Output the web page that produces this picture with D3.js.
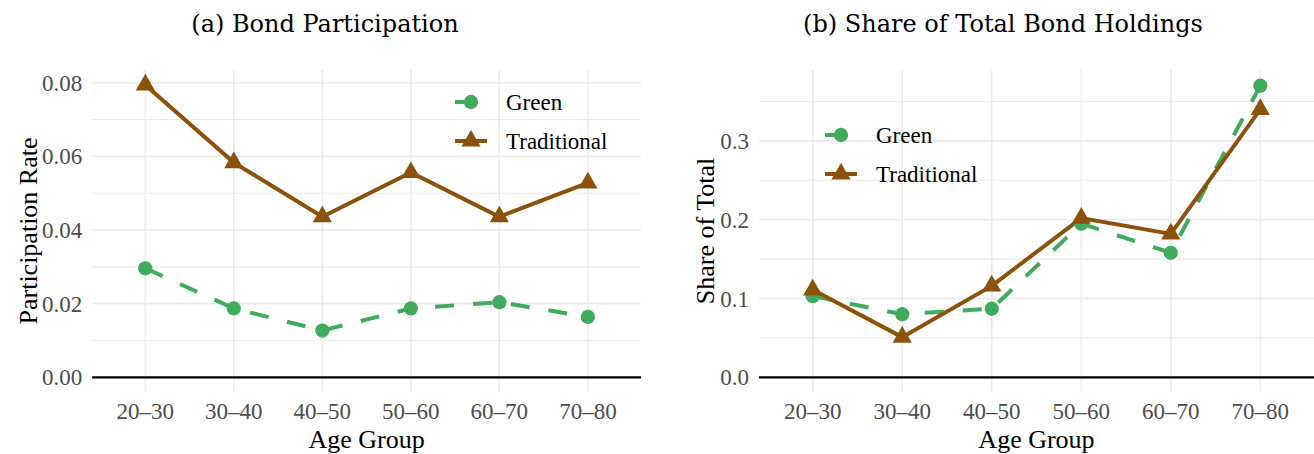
<!DOCTYPE html>
<html>
<head>
<meta charset="utf-8">
<script src="https://cdn.jsdelivr.net/npm/d3@7"></script>
<style>
  body { margin: 0; background: #fff; }
  svg { display: block; }
</style>
</head>
<body>
<svg id="chart" width="1314" height="454"></svg>
<script>
// data
var ageGroups = ["20–30", "30–40", "40–50", "50–60", "60–70", "70–80"];
var seriesNames = ["Green", "Traditional"];

var partGreen = [0.0296, 0.0187, 0.0127, 0.0187, 0.0204, 0.0164];
var partTraditional = [0.0794, 0.0583, 0.0436, 0.0556, 0.0436, 0.0528];

var shareGreen = [0.103, 0.080, 0.087, 0.195, 0.158, 0.370];
var shareTraditional = [0.111, 0.051, 0.116, 0.202, 0.182, 0.340];

var partTicks = [0, 0.02, 0.04, 0.06, 0.08];
var partMinor = [0.01, 0.03, 0.05, 0.07];
var shareTicks = [0, 0.1, 0.2, 0.3];
var shareMinor = [0.05, 0.15, 0.25, 0.35];

var colors = { Green: "#41ab5d", Traditional: "#8c510a" };

var svg = d3.select("#chart");
var serif = "'Liberation Serif', Tinos, 'Times New Roman', Times, 'DejaVu Serif', serif";

// one panel
function drawPanel(opt)
{
    var g = svg.append("g");

    var x = d3.scalePoint()
        .domain(ageGroups)
        .range([opt.left, opt.right])
        .padding(0.6);

    var y = d3.scaleLinear()
        .domain([0, opt.yMax])
        .range([377.3, 377.3 - opt.yPix]);

    var top = 70, bottom = 392;

    //grid
    g.selectAll(".minor").data(opt.minor).enter().append("line")
        .attr("x1", opt.left).attr("x2", opt.right)
        .attr("y1", function(d) { return y(d); })
        .attr("y2", function(d) { return y(d); })
        .style("stroke", "#ebebeb").style("stroke-width", 1.1);

    g.selectAll(".major").data(opt.ticks).enter().append("line")
        .attr("x1", opt.left).attr("x2", opt.right)
        .attr("y1", function(d) { return y(d); })
        .attr("y2", function(d) { return y(d); })
        .style("stroke", "#ebebeb").style("stroke-width", 1.6);

    g.selectAll(".vgrid").data(ageGroups).enter().append("line")
        .attr("x1", function(d) { return x(d); })
        .attr("x2", function(d) { return x(d); })
        .attr("y1", top).attr("y2", bottom)
        .style("stroke", "#ebebeb").style("stroke-width", 1.6);

    //zero line
    g.append("line")
        .attr("x1", opt.left).attr("x2", opt.right)
        .attr("y1", y(0)).attr("y2", y(0))
        .style("stroke", "#000").style("stroke-width", 2.2);

    //y tick labels
    g.selectAll(".ytick").data(opt.ticks).enter().append("text")
        .attr("x", opt.left - 10)
        .attr("y", function(d) { return y(d); })
        .attr("dy", "0.35em")
        .attr("text-anchor", "end")
        .style("font-family", serif).style("font-size", "23px").style("fill", "#4d4d4d")
        .text(function(d) { return opt.fmt(d); });

    //x tick labels
    g.selectAll(".xtick").data(ageGroups).enter().append("text")
        .attr("x", function(d) { return x(d); })
        .attr("y", 419)
        .attr("text-anchor", "middle")
        .style("font-family", serif).style("font-size", "23px").style("fill", "#4d4d4d")
        .text(function(d) { return d; });

    //axis titles
    g.append("text")
        .attr("x", (opt.left + opt.right) / 2)
        .attr("y", 448)
        .attr("text-anchor", "middle")
        .style("font-family", serif).style("font-size", "26px").style("fill", "#000")
        .text("Age Group");

    g.append("text")
        .attr("transform", "translate(" + opt.yTitleX + "," + (top + bottom) / 2 + ") rotate(-90)")
        .attr("text-anchor", "middle")
        .style("font-family", serif).style("font-size", "26px").style("fill", "#000")
        .text(opt.yTitle);

    //title
    g.append("text")
        .attr("x", opt.titleX)
        .attr("y", 32)
        .attr("text-anchor", "middle")
        .style("font-family", "'DejaVu Serif', serif").style("font-size", "24px").style("fill", "#000")
        .text(opt.title);

    var line = d3.line()
        .x(function(d, i) { return x(ageGroups[i]); })
        .y(function(d) { return y(d); });

    var series = [
        { name: "Green", values: opt.green, dash: "19,19", shape: d3.symbolCircle },
        { name: "Traditional", values: opt.traditional, dash: null, shape: d3.symbolTriangle }
    ];

    //lines first, then points
    series.forEach(function(s) {
        g.append("path")
            .attr("d", line(s.values))
            .style("fill", "none")
            .style("stroke", colors[s.name])
            .style("stroke-width", 4)
            .style("stroke-dasharray", s.dash);
    });

    series.forEach(function(s) {
        g.selectAll(".pt-" + s.name).data(s.values).enter().append("path")
            .attr("d", d3.symbol().type(s.shape).size(160))
            .attr("transform", function(d, i) {
                return "translate(" + x(ageGroups[i]) + "," + y(d) + ")";
            })
            .style("fill", colors[s.name]);
    });

    //legend
    var legend = g.selectAll(".legend")
        .data(series)
        .enter()
        .append("g")
        .attr("transform", function(d, i) {
            return "translate(" + opt.legendX + "," + (opt.legendY + i * 39) + ")";
        });

    legend.append("line")
        .attr("x1", -16).attr("x2", 16)
        .style("stroke", function(d) { return colors[d.name]; })
        .style("stroke-width", 4)
        .style("stroke-dasharray", function(d) { return d.dash ? "12,40" : null; });

    legend.append("path")
        .attr("d", function(d) { return d3.symbol().type(d.shape).size(160)(); })
        .style("fill", function(d) { return colors[d.name]; });

    legend.append("text")
        .attr("x", 35)
        .attr("dy", "0.35em")
        .style("font-family", serif).style("font-size", "23px").style("fill", "#000")
        .text(function(d) { return d.name; });
}

drawPanel({
    left: 92.2, right: 641, yMax: 0.08, yPix: 294.6,
    ticks: partTicks, minor: partMinor, fmt: d3.format(".2f"),
    green: partGreen, traditional: partTraditional,
    yTitle: "Participation Rate", yTitleX: 37,
    title: "(a) Bond Participation", titleX: 325,
    legendX: 471, legendY: 102
});

drawPanel({
    left: 759, right: 1314, yMax: 0.3, yPix: 236.4,
    ticks: shareTicks, minor: shareMinor, fmt: d3.format(".1f"),
    green: shareGreen, traditional: shareTraditional,
    yTitle: "Share of Total", yTitleX: 714,
    title: "(b) Share of Total Bond Holdings", titleX: 1003,
    legendX: 841, legendY: 135
});
</script>
</body>
</html>
